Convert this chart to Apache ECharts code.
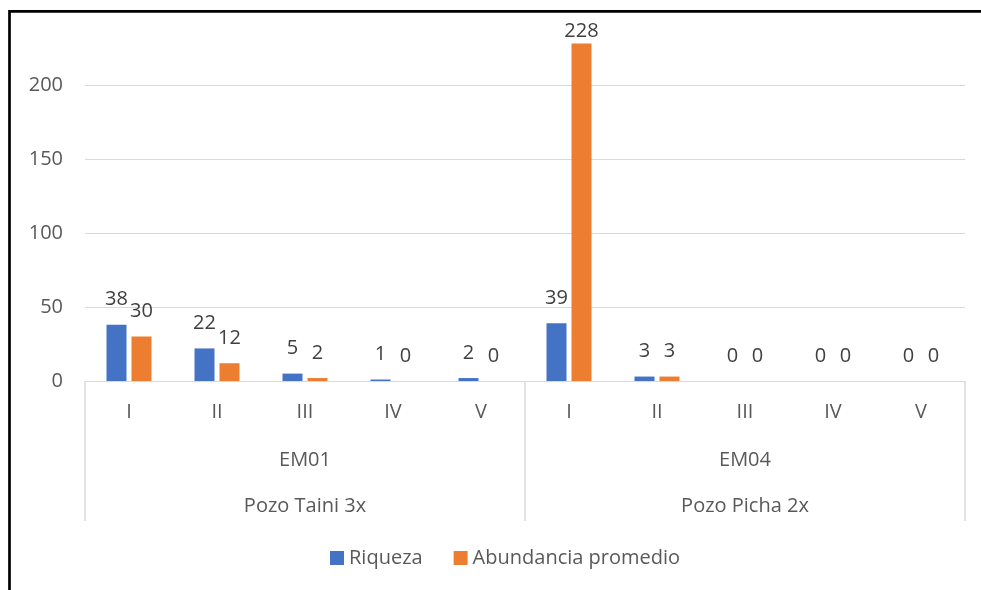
<!DOCTYPE html>
<html>
<head>
<meta charset="utf-8">
<script src="https://cdn.jsdelivr.net/npm/echarts@6/dist/echarts.min.js"></script>
<style>
  html, body { margin: 0; padding: 0; background: #fff; }
  #chart { width: 981px; height: 590px; }
</style>
</head>
<body>
<div id="chart"></div>
<script>
// categories (three-level axis)
var periodos = ['I', 'II', 'III', 'IV', 'V', 'I', 'II', 'III', 'IV', 'V']
var estaciones = ['EM01', 'EM04']
var pozos = ['Pozo Taini 3x', 'Pozo Picha 2x']

// series values
var riqueza = [38, 22, 5, 1, 2, 39, 3, 0, 0, 0]
var abundancia = [30, 12, 2, 0, 0, 228, 3, 0, 0, 0]

var FONT = 'Open Sans'
var GRIS = '#595959'
var LINEA = '#D9D9D9'

var myChart = echarts.init(document.getElementById('chart'), null, { renderer: 'canvas' })

// Excel clamps the tallest label inside the chart, so it sits closer to the bar
function conEtiquetas(vals) {
  var maxV = Math.max.apply(null, abundancia.concat(riqueza))
  return vals.map(function (v) {
    if (v === maxV) return { value: v, label: { distance: 2 } }
    return v
  })
}

var option = {
  backgroundColor: '#fff',
  animation: false,
  textStyle: { fontFamily: FONT },
  grid: { left: 85, right: 16, top: 11, bottom: 209, containLabel: false },
  legend: {
    top: 543,
    left: 325,
    itemWidth: 14,
    itemHeight: 14,
    itemGap: 31,
    icon: 'rect',
    textStyle: { fontSize: 20, color: GRIS, fontFamily: FONT },
    data: ['Riqueza', 'Abundancia promedio']
  },
  xAxis: [{
    type: 'category',
    data: periodos,
    position: 'bottom',
    axisLine: { show: true, lineStyle: { color: LINEA, width: 1 } },
    axisTick: { show: false },
    axisLabel: { interval: 0, margin: 21, fontSize: 20, color: GRIS, fontFamily: FONT }
  }, {
    type: 'category',
    data: estaciones,
    position: 'bottom',
    axisLine: { show: false },
    axisTick: { show: true, length: 140, interval: 0, lineStyle: { color: LINEA, width: 1.5 } },
    axisLabel: { interval: 0, margin: 69, fontSize: 20, color: GRIS, fontFamily: FONT }
  }, {
    type: 'category',
    data: pozos,
    position: 'bottom',
    axisLine: { show: false },
    axisTick: { show: false },
    axisLabel: { interval: 0, margin: 115, fontSize: 20, color: GRIS, fontFamily: FONT }
  }],
  yAxis: {
    type: 'value',
    min: 0,
    max: 250,
    interval: 50,
    axisLine: { show: false },
    axisTick: { show: false },
    splitLine: { lineStyle: { color: LINEA, width: 1 } },
    axisLabel: { showMaxLabel: false, margin: 22, fontSize: 20, color: GRIS, fontFamily: FONT }
  },
  series: [{
    name: 'Riqueza',
    type: 'bar',
    xAxisIndex: 0,
    barWidth: 20,
    barGap: '25%',
    itemStyle: { color: '#4472C4' },
    label: { show: true, position: 'top', distance: 15, fontSize: 20, color: '#404040', fontFamily: FONT },
    data: conEtiquetas(riqueza)
  }, {
    name: 'Abundancia promedio',
    type: 'bar',
    xAxisIndex: 0,
    barWidth: 20,
    barGap: '25%',
    itemStyle: { color: '#ED7D31' },
    label: { show: true, position: 'top', distance: 15, fontSize: 20, color: '#404040', fontFamily: FONT },
    data: conEtiquetas(abundancia)
  }],
  graphic: [{
    type: 'rect',
    z: 100,
    shape: { x: 9.5, y: 11.3, width: 1200, height: 1000 },
    style: { fill: null, stroke: '#000', lineWidth: 2.7 }
  }]
}

myChart.setOption(option)
</script>
</body>
</html>
